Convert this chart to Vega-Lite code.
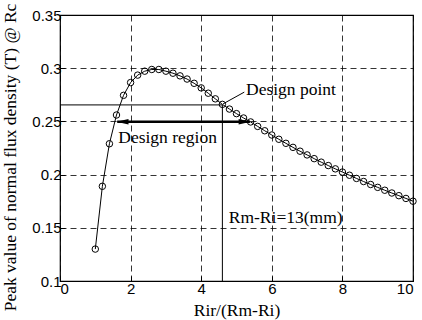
{
  "$schema": "https://vega.github.io/schema/vega-lite/v6.json",
  "autosize": "none",
  "width": 353,
  "height": 266,
  "padding": {"left": 60, "top": 15, "right": 9, "bottom": 39},
  "background": "white",
  "config": {
    "view": {"stroke": "black", "strokeWidth": 1.2},
    "axis": {
      "domain": false,
      "grid": true,
      "gridColor": "black",
      "gridOpacity": 1,
      "gridWidth": 0.8,
      "gridDash": [6, 4],
      "ticks": true,
      "tickSize": -5,
      "tickColor": "black",
      "labelColor": "black",
      "labelFont": "Liberation Sans",
      "labelFontSize": 15,
      "titleFont": "Liberation Serif",
      "titleFontSize": 17.5,
      "titleFontWeight": "normal",
      "titleColor": "black"
    }
  },
  "datasets": {
    "curve": [
      {"x": 1.0, "y": 0.130}, {"x": 1.2, "y": 0.189}, {"x": 1.4, "y": 0.229}, {"x": 1.6, "y": 0.256},
      {"x": 1.8, "y": 0.2745}, {"x": 2.0, "y": 0.2865}, {"x": 2.2, "y": 0.2935}, {"x": 2.4, "y": 0.2972},
      {"x": 2.6, "y": 0.2988}, {"x": 2.8, "y": 0.2988}, {"x": 3.0, "y": 0.2972}, {"x": 3.2, "y": 0.2953},
      {"x": 3.4, "y": 0.2928}, {"x": 3.6, "y": 0.2898}, {"x": 3.8, "y": 0.2858}, {"x": 4.0, "y": 0.2815},
      {"x": 4.2, "y": 0.2765}, {"x": 4.4, "y": 0.2712}, {"x": 4.6, "y": 0.2660}, {"x": 4.8, "y": 0.2616},
      {"x": 5.0, "y": 0.2573}, {"x": 5.2, "y": 0.2532}, {"x": 5.4, "y": 0.2495}, {"x": 5.6, "y": 0.2453},
      {"x": 5.8, "y": 0.2412}, {"x": 6.0, "y": 0.2372}, {"x": 6.2, "y": 0.2332}, {"x": 6.4, "y": 0.2294},
      {"x": 6.6, "y": 0.2256}, {"x": 6.8, "y": 0.2220}, {"x": 7.0, "y": 0.2185}, {"x": 7.2, "y": 0.2150},
      {"x": 7.4, "y": 0.2117}, {"x": 7.6, "y": 0.2085}, {"x": 7.8, "y": 0.2054}, {"x": 8.0, "y": 0.2024},
      {"x": 8.2, "y": 0.1994}, {"x": 8.4, "y": 0.1964}, {"x": 8.6, "y": 0.1935}, {"x": 8.8, "y": 0.1907},
      {"x": 9.0, "y": 0.1880}, {"x": 9.2, "y": 0.1853}, {"x": 9.4, "y": 0.1827}, {"x": 9.6, "y": 0.1802},
      {"x": 9.8, "y": 0.1776}, {"x": 10.0, "y": 0.1750}
    ],
    "guides": [
      {"x": 0, "x2": 4.6, "y": 0.2655, "y2": 0.2655},
      {"x": 4.6, "x2": 4.6, "y": 0.1, "y2": 0.2655},
      {"x": 4.62, "x2": 5.22, "y": 0.2665, "y2": 0.2775}
    ],
    "arrow": [{"x": 1.62, "x2": 5.38, "y": 0.2497}],
    "heads": [
      {"x": 1.6, "y": 0.2497, "dir": "left"},
      {"x": 5.4, "y": 0.2497, "dir": "right"}
    ],
    "labels": [
      {"x": 5.27, "y": 0.2795, "text": "Design point"},
      {"x": 1.65, "y": 0.2345, "text": "Design region"},
      {"x": 4.78, "y": 0.1595, "text": "Rm-Ri=13(mm)"}
    ]
  },
  "layer": [
    {
      "data": {"name": "guides"},
      "mark": {"type": "rule", "color": "black", "strokeWidth": 1},
      "encoding": {
        "x": {"field": "x", "type": "quantitative", "scale": {"domain": [0, 10], "nice": false},
              "axis": {"values": [0, 2, 4, 6, 8, 10], "title": "Rir/(Rm-Ri)", "titlePadding": 5, "labelPadding": 5}},
        "y": {"field": "y", "type": "quantitative", "scale": {"domain": [0.1, 0.35], "nice": false, "zero": false},
              "axis": {"values": [0.1, 0.15, 0.2, 0.25, 0.3, 0.35], "format": ".2~f", "title": "Peak value of normal flux density (T) @ Rc", "labelPadding": 4,
                       "titleX": -40.5, "titleY": 142, "titleAlign": "center", "titleBaseline": "bottom", "titleAngle": -90}},
        "x2": {"field": "x2"},
        "y2": {"field": "y2"}
      }
    },
    {
      "data": {"name": "arrow"},
      "mark": {"type": "rule", "color": "black", "strokeWidth": 2.6},
      "encoding": {
        "x": {"field": "x", "type": "quantitative"},
        "x2": {"field": "x2"},
        "y": {"field": "y", "type": "quantitative"}
      }
    },
    {
      "data": {"name": "heads"},
      "mark": {"type": "point", "filled": true, "color": "black", "size": 144, "opacity": 1},
      "encoding": {
        "x": {"field": "x", "type": "quantitative"},
        "y": {"field": "y", "type": "quantitative"},
        "shape": {"field": "dir", "type": "nominal", "legend": null,
                  "scale": {"domain": ["left", "right"], "range": ["M0,0L2,-0.45L2,0.45Z", "M0,0L-2,-0.45L-2,0.45Z"]}}
      }
    },
    {
      "data": {"name": "curve"},
      "mark": {"type": "line", "color": "black", "strokeWidth": 1},
      "encoding": {
        "x": {"field": "x", "type": "quantitative"},
        "y": {"field": "y", "type": "quantitative"}
      }
    },
    {
      "data": {"name": "curve"},
      "mark": {"type": "point", "shape": "circle", "filled": false, "stroke": "black", "strokeWidth": 1, "size": 42, "opacity": 1},
      "encoding": {
        "x": {"field": "x", "type": "quantitative"},
        "y": {"field": "y", "type": "quantitative"}
      }
    },
    {
      "data": {"name": "labels"},
      "mark": {"type": "text", "align": "left", "baseline": "middle", "font": "Liberation Serif", "fontSize": 17.5, "color": "black"},
      "encoding": {
        "x": {"field": "x", "type": "quantitative"},
        "y": {"field": "y", "type": "quantitative"},
        "text": {"field": "text"}
      }
    }
  ]
}
